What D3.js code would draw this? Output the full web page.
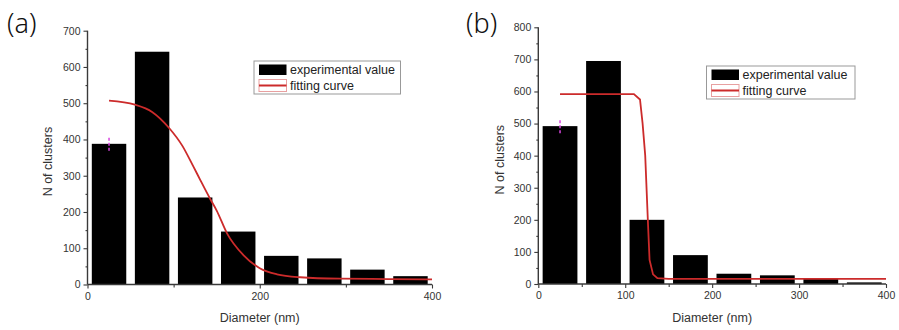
<!DOCTYPE html>
<html>
<head>
<meta charset="utf-8">
<script src="https://cdn.jsdelivr.net/npm/d3@7"></script>
<style>
  html, body { margin: 0; padding: 0; background: #fff; }
  svg { display: block; }
  text { font-family: "Liberation Sans", Arial, sans-serif; }
</style>
</head>
<body>
<svg id="chart" width="899" height="330"></svg>
<script>
// Histogram bins (bin centre, nm) shared by both samples
const binCenters = [25, 75, 125, 175, 225, 275, 325, 375];
const barHalfWidth = 20;

// Sample (a)
const countsA = [388, 642, 240, 146, 79, 72, 41, 23];
const errorA = [[25, 369, 408]];          // [x, low, high]
const fitA = [
  [25, 507], [55, 496], [75, 476], [95, 431], [110, 383], [123, 325],
  [131, 288], [142, 238], [150, 204], [162, 141], [181, 81], [200, 45],
  [220, 28], [247, 20], [293, 16], [350, 15], [400, 14]
];
const xTicksA = [0, 200, 400];
const xMinorA = [100, 300];
const yTicksA = [0, 100, 200, 300, 400, 500, 600, 700];

// Sample (b)
const countsB = [492, 695, 200, 90, 32, 27, 17, 5];
const errorB = [[25, 470, 516]];
const fitB = [
  [25, 592], [110, 592], [117, 575], [120, 500], [123, 400], [126, 200],
  [128, 75], [132, 30], [137, 18], [150, 16], [400, 16]
];
const xTicksB = [0, 100, 200, 300, 400];
const xMinorB = [50, 150, 250, 350];
const yTicksB = [0, 100, 200, 300, 400, 500, 600, 700, 800];

const legendLabels = ["experimental value", "fitting curve"];

const svg = d3.select("#chart");
const axisColor = "#3a3a3a";
const fitColor = "#cc2b2b";

function drawPanel(p) {
  const g = svg.append("g");
  const x = d3.scaleLinear().domain([0, 400]).range([p.x0, p.x1]);
  const y = d3.scaleLinear().domain([0, p.yMax]).range([p.y0, p.y1]);

  // bars
  g.selectAll("rect.bar").data(p.counts).join("rect")
    .attr("class", "bar")
    .attr("x", (d, i) => x(binCenters[i] - barHalfWidth))
    .attr("width", (d, i) => x(binCenters[i] + barHalfWidth) - x(binCenters[i] - barHalfWidth))
    .attr("y", d => y(d))
    .attr("height", d => y(0) - y(d))
    .attr("fill", "#000");

  // error bar on first bin
  g.selectAll("line.err").data(p.error).join("line")
    .attr("class", "err")
    .attr("x1", d => x(d[0])).attr("x2", d => x(d[0]))
    .attr("y1", d => y(d[1])).attr("y2", d => y(d[2]))
    .attr("stroke", "#d846e0").attr("stroke-width", 1.5)
    .attr("stroke-dasharray", "3,2");

  // fitted curve
  const line = d3.line().x(d => x(d[0])).y(d => y(d[1])).curve(p.curve);
  g.append("path").datum(p.fit)
    .attr("d", line)
    .attr("fill", "none")
    .attr("stroke", fitColor)
    .attr("stroke-width", 1.8);

  // axes
  const yAxis = d3.axisLeft(y).tickValues(p.yTicks).tickSize(4).tickPadding(3);
  const yMinor = d3.axisLeft(y).tickValues(p.yTicks.slice(0, -1).map(v => v + 50)).tickSize(2).tickFormat("");
  const xAxis = d3.axisBottom(x).tickValues(p.xTicks).tickSize(4).tickPadding(4);
  const xMinor = d3.axisBottom(x).tickValues(p.xMinor).tickSize(3).tickFormat("");

  const styleAxis = sel => {
    sel.select(".domain").attr("stroke", axisColor).attr("stroke-width", 1.4);
    sel.selectAll(".tick line").attr("stroke", axisColor).attr("stroke-width", 1.1);
    sel.selectAll(".tick text").attr("fill", "#333").style("font-size", "10.5px");
  };
  g.append("g").attr("transform", `translate(${p.x0},0)`).call(yMinor).call(styleAxis)
    .select(".domain").remove();
  g.append("g").attr("transform", `translate(0,${p.y0})`).call(xMinor).call(styleAxis)
    .select(".domain").remove();
  g.append("g").attr("transform", `translate(${p.x0},0)`).call(yAxis).call(styleAxis)
    .select(".domain").attr("d", `M0,${p.y0}V${p.y1}`);
  g.append("g").attr("transform", `translate(0,${p.y0})`).call(xAxis).call(styleAxis)
    .select(".domain").attr("d", `M${p.x0},0H${p.x1}`);

  // axis titles
  g.append("text")
    .attr("transform", `translate(${p.yLabelX},${(p.y0 + p.y1) / 2 + 4}) rotate(-90)`)
    .attr("text-anchor", "middle").attr("fill", "#333").style("font-size", "12.5px")
    .text("N of clusters");
  g.append("text")
    .attr("x", (p.x0 + p.x1) / 2).attr("y", 322)
    .attr("text-anchor", "middle").attr("fill", "#333").style("font-size", "12.5px")
    .text("Diameter (nm)");

  // panel tag
  g.append("text")
    .attr("x", p.tagX).attr("y", 33)
    .attr("fill", "#111")
    .style("font-family", "'Noto Sans', 'Open Sans', sans-serif")
    .style("font-size", "27px").style("font-weight", 300)
    .text(p.tag);

  // legend
  const lg = g.append("g").attr("transform", `translate(${p.legX},${p.legY})`);
  lg.append("rect").attr("width", p.legW).attr("height", 33)
    .attr("fill", "#fff").attr("stroke", "#999").attr("stroke-width", 1);
  lg.append("rect").attr("x", 5).attr("y", 3.5).attr("width", 27.5).attr("height", 10.5).attr("fill", "#000");
  lg.append("rect").attr("x", 5).attr("y", 18.5).attr("width", 27.5).attr("height", 12)
    .attr("fill", "#fff").attr("stroke", "#e8a0a0").attr("stroke-width", 1);
  lg.append("line").attr("x1", 5).attr("x2", 32.5).attr("y1", 24.5).attr("y2", 24.5)
    .attr("stroke", fitColor).attr("stroke-width", 2);
  lg.selectAll("text.leg").data(legendLabels).join("text")
    .attr("class", "leg")
    .attr("x", 36).attr("y", (d, i) => 13 + i * 15.5)
    .attr("fill", "#222").style("font-size", "12.5px")
    .text(d => d);
}

drawPanel({
  tag: "(a)", tagX: 7,
  counts: countsA, error: errorA, fit: fitA, curve: d3.curveMonotoneX,
  xTicks: xTicksA, xMinor: xMinorA, yTicks: yTicksA, yMax: 700,
  x0: 87.5, x1: 432, y0: 284.5, y1: 30.7, yLabelX: 52,
  legX: 254, legY: 61, legW: 146.5
});

drawPanel({
  tag: "(b)", tagX: 466,
  counts: countsB, error: errorB, fit: fitB, curve: d3.curveLinear,
  xTicks: xTicksB, xMinor: xMinorB, yTicks: yTicksB, yMax: 800,
  x0: 538.3, x1: 886, y0: 284, y1: 27.3, yLabelX: 504,
  legX: 706.5, legY: 66, legW: 148.5
});
</script>
</body>
</html>
